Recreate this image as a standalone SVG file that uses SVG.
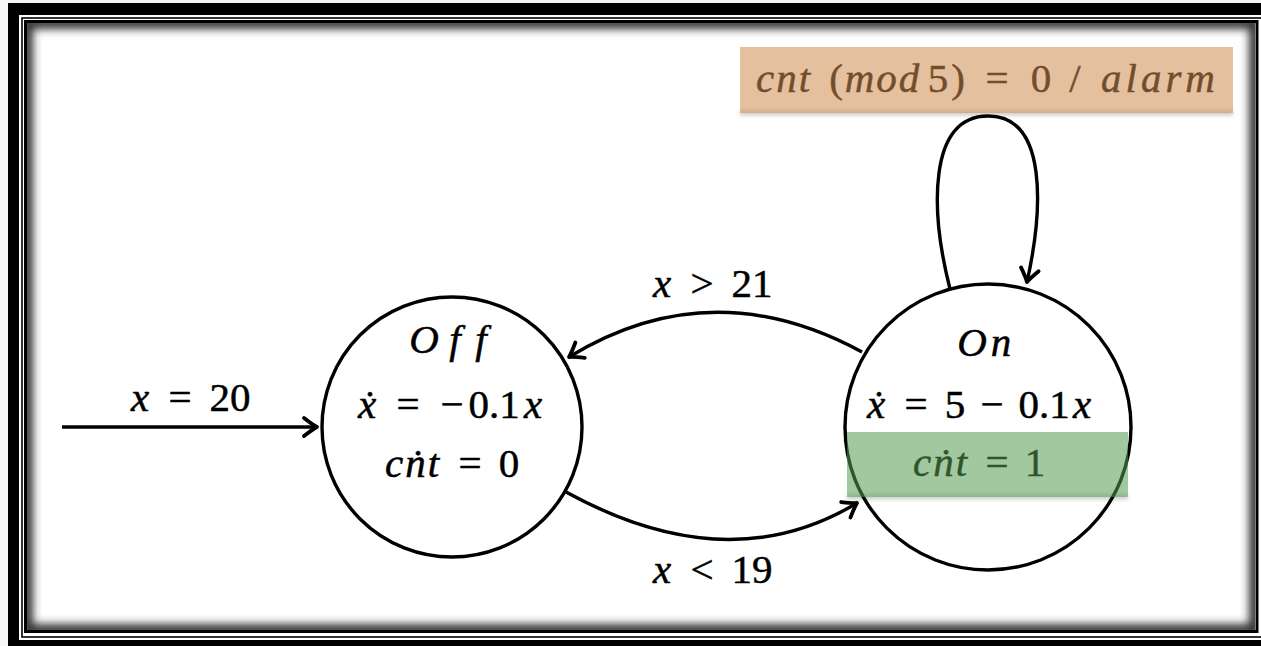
<svg xmlns="http://www.w3.org/2000/svg" width="1261" height="646" viewBox="0 0 1261 646">
  <style>
    .t { font-family: "Liberation Serif", "DejaVu Serif", serif; font-size: 41px; fill: #000; stroke: #000; stroke-width: 0.5px; text-anchor: middle; }
    .i { font-style: italic; }
    .w { letter-spacing: 2px; }
    .edge { fill: none; stroke: #000; stroke-width: 3.4; marker-end: url(#arr); }
    .state { fill: #fff; stroke: #000; stroke-width: 3.4; }
  </style>
  <defs>
    <marker id="arr" markerUnits="userSpaceOnUse" markerWidth="30" markerHeight="30" viewBox="-15 -15 30 30" refX="0" refY="0" orient="auto" overflow="visible">
      <path d="M -13,-9 Q -4,-2 0,0 Q -4,2 -13,9" fill="none" stroke="#000" stroke-width="3.8" stroke-linecap="round" stroke-linejoin="round"/>
    </marker>
    <filter id="blur4" x="-5%" y="-5%" width="110%" height="110%">
      <feGaussianBlur stdDeviation="4"/>
    </filter>
    <filter id="blur2" x="-10%" y="-100%" width="120%" height="300%">
      <feGaussianBlur stdDeviation="2"/>
    </filter>
    <clipPath id="inner">
      <rect x="27" y="23" width="1228" height="607"/>
    </clipPath>
  </defs>

  <!-- page frame -->
  <rect x="0" y="0" width="1261" height="646" fill="#f6f6f6"/>
  <rect x="8" y="3" width="1270" height="660" fill="#000"/>
  <rect x="19" y="15" width="1260" height="625" fill="#fff"/>
  <rect x="22" y="18" width="1250" height="619" fill="none" stroke="#000" stroke-width="1.6"/>
  <rect x="25.5" y="21.5" width="1231.5" height="610" fill="#fff" stroke="#000" stroke-width="3"/>
  <g clip-path="url(#inner)">
    <rect x="27" y="23" width="1228" height="607" fill="none" stroke="#333" stroke-width="12" filter="url(#blur4)"/>
  </g>

  <!-- transitions -->
  <g id="connectors">
    <line id="init" class="edge" x1="62" y1="427" x2="317" y2="427"/>
    <path id="on-off" class="edge" d="M 862,352 Q 711,270 569,357"/>
    <path id="off-on" class="edge" d="M 566,492 Q 728,581 857,503"/>
    <path id="on-on" class="edge" d="M 950,289 C 930,210 928,116 988,116 C 1048,116 1043,210 1027,282"/>
  </g>

  <!-- transition labels -->
  <g id="label-init">
    <text class="t" y="411"><tspan class="i" x="140">x</tspan><tspan x="180">=</tspan><tspan x="230">20</tspan></text>
  </g>
  <g id="label-on-off">
    <text class="t" y="297"><tspan class="i" x="662">x</tspan><tspan x="702">&gt;</tspan><tspan x="752">21</tspan></text>
  </g>
  <g id="label-off-on">
    <text class="t" y="583"><tspan class="i" x="662">x</tspan><tspan x="702">&lt;</tspan><tspan x="752">19</tspan></text>
  </g>

  <!-- state Off -->
  <g id="state-off">
    <circle class="state" cx="452" cy="427" r="130"/>
    <text class="t" y="353"><tspan class="i" x="424">O</tspan><tspan class="i" x="455">f</tspan><tspan class="i" x="481">f</tspan></text>
    <text class="t" y="418"><tspan class="i" x="367">ẋ</tspan><tspan x="408">=</tspan><tspan x="452">−</tspan><tspan x="494">0.1</tspan><tspan class="i" x="533">x</tspan></text>
    <text class="t" y="477"><tspan class="i w" x="413">cṅt</tspan><tspan x="470">=</tspan><tspan x="509">0</tspan></text>
  </g>

  <!-- state On -->
  <g id="state-on">
    <circle class="state" cx="988" cy="427" r="143"/>
    <text class="t" y="356"><tspan class="i" x="972">O</tspan><tspan class="i" x="1001">n</tspan></text>
    <text class="t" y="418"><tspan class="i" x="876">ẋ</tspan><tspan x="916">=</tspan><tspan x="955">5</tspan><tspan x="992">−</tspan><tspan x="1044">0.1</tspan><tspan class="i" x="1082">x</tspan></text>
    <text class="t" y="476"><tspan class="i w" x="941">cṅt</tspan><tspan x="997">=</tspan><tspan x="1035">1</tspan></text>
    <!-- flow highlight -->
    <rect x="847" y="495" width="281" height="4" fill="#000" opacity="0.25" filter="url(#blur2)"/>
    <rect x="847" y="432" width="281" height="65" fill="rgb(85,155,80)" fill-opacity="0.55"/>
  </g>

  <!-- self-loop guard / action -->
  <g id="label-on-on">
    <rect x="740" y="111" width="493" height="4" fill="#000" opacity="0.25" filter="url(#blur2)"/>
    <text class="t" y="92"><tspan class="i w" x="784">cnt</tspan><tspan x="836">(</tspan><tspan class="i w" x="883">mod</tspan><tspan x="938">5</tspan><tspan x="958">)</tspan><tspan x="997">=</tspan><tspan x="1041">0</tspan><tspan x="1075">/</tspan><tspan class="i" x="1160" style="letter-spacing:4px">alarm</tspan></text>
    <rect x="740" y="47" width="493" height="66" fill="rgb(208,140,80)" fill-opacity="0.55"/>
  </g>
</svg>
